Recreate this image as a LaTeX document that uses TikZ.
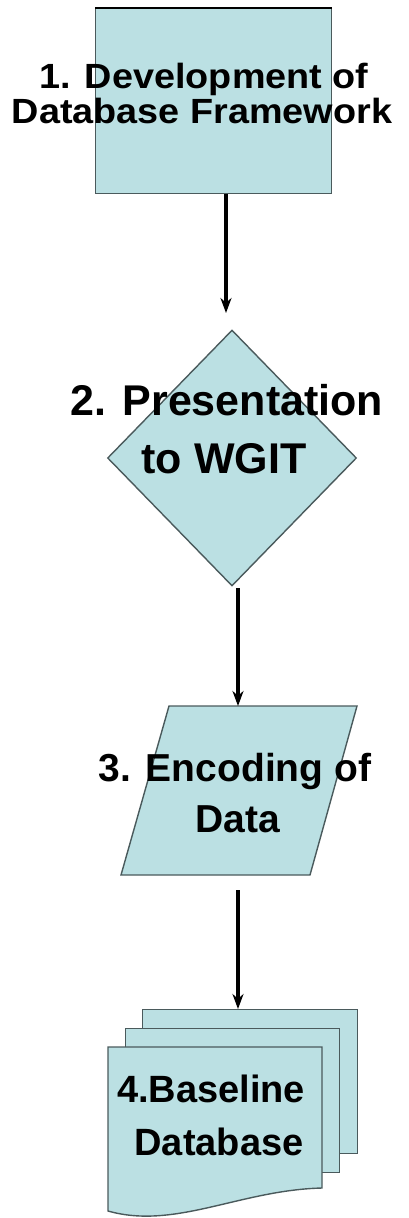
\documentclass[tikz,border=0pt]{standalone}
\usepackage{fontspec}
\setmainfont{Liberation Sans}
\usetikzlibrary{arrows.meta,shapes.geometric}
\definecolor{shapefill}{HTML}{BBE0E3}
\definecolor{shapeline}{HTML}{4A5A5C}
\begin{document}
\begin{tikzpicture}[x=1pt,y=-1pt,
  shapebox/.style={fill=shapefill,draw=shapeline,line width=1.4pt},
  flowarrow/.style={line width=3.5pt,-{Stealth[length=15pt,width=11pt]}},
  lbl/.style={anchor=base,inner sep=0pt}]
\useasboundingbox (0,0) rectangle (409,1218);
% 1. rectangle
\node[shapebox,rectangle,inner sep=0pt,minimum width=236pt,minimum height=185pt,anchor=north west] (b1) at (95,8) {};
\draw[line width=2.5pt] (b1.north west) -- (b1.north east);
% 2. diamond
\node[shapebox,diamond,inner sep=0pt,minimum width=249pt,minimum height=256pt] (d2) at (232,458) {};
% 3. parallelogram
\draw[shapebox] (169,706) -- (357,706) -- (310,875) -- (121,875) -- cycle;
\coordinate (p3top) at (238,706);
\coordinate (p3bot) at (238,890);
% 4. multi-document
\node[shapebox,rectangle,inner sep=0pt,minimum width=215pt,minimum height=144pt,anchor=north west] (s4back) at (142,1009) {};
\node[shapebox,rectangle,inner sep=0pt,minimum width=214pt,minimum height=144pt,anchor=north west] (s4mid) at (125,1028) {};
\draw[shapebox] (108,1047) -- (322,1047) -- (322,1188)
  .. controls (240,1190) and (175,1230) .. (108,1211) -- cycle;
% arrows
\coordinate (a1end) at (226,313);
\coordinate (a2end) at (238,588);
\draw[flowarrow] (b1.south -| a1end) -- (a1end);
\draw[flowarrow] (a2end) -- (p3top);
\draw[flowarrow] (p3bot) -- (s4back.north -| p3bot);
% texts
\node[lbl] (t1a) at (204,88) {\fontsize{35}{35}\selectfont\bfseries\scalebox{1.08}[1]{1. Development of}};
\node[lbl] (t1b) at (202,123) {\fontsize{35}{35}\selectfont\bfseries\scalebox{1.08}[1]{Database Framework}};
\node[lbl] (t2a) at (227,415) {\fontsize{43}{43}\selectfont\bfseries 2. Presentation};
\node[lbl] (t2b) at (224,473) {\fontsize{43}{43}\selectfont\bfseries to WGIT};
\node[lbl] (t3a) at (235,781) {\fontsize{39}{39}\selectfont\bfseries 3. Encoding of};
\node[lbl] (t3b) at (238,832) {\fontsize{39}{39}\selectfont\bfseries Data};
\node[lbl] (t4a) at (211,1102) {\fontsize{38}{38}\selectfont\bfseries 4.Baseline};
\node[lbl] (t4b) at (219,1155) {\fontsize{38}{38}\selectfont\bfseries Database};
\end{tikzpicture}
\end{document}
